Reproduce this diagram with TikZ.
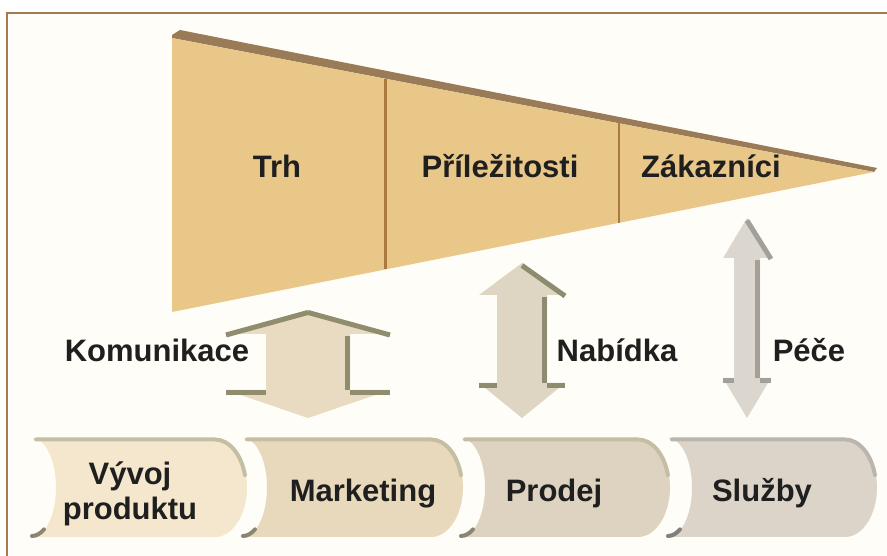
\documentclass[tikz,border=0pt]{standalone}
\usepackage{fontspec}
\setmainfont{Liberation Sans}
\usepackage{tikz}
\usetikzlibrary{calc}
\definecolor{paper}{HTML}{FFFDF8}
\definecolor{frameBrown}{HTML}{A47A50}
\definecolor{wedgeFill}{HTML}{E8C788}
\definecolor{wedgeTop}{HTML}{9A7B58}
\definecolor{wedgeLine}{HTML}{A97B3F}
\definecolor{arrowKom}{HTML}{E9DBC1}
\definecolor{arrowKomEdge}{HTML}{908D6E}
\definecolor{arrowNab}{HTML}{DED5C3}
\definecolor{arrowNabEdge}{HTML}{8E8C70}
\definecolor{arrowPec}{HTML}{DBD6CE}
\definecolor{arrowPecEdge}{HTML}{A3A099}
\definecolor{pieceA}{HTML}{F4E7CD}
\definecolor{pieceB}{HTML}{E8D9BC}
\definecolor{pieceC}{HTML}{DED3C0}
\definecolor{pieceD}{HTML}{DCD4C8}
\definecolor{pieceEdge}{HTML}{C4BFA2}
\definecolor{pieceEdgeGrey}{HTML}{B9B6B0}
\colorlet{captionText}{black!88}
\tikzset{
  caption/.style={font=\bfseries\fontsize{31}{35}\selectfont,text=captionText,inner sep=0pt,anchor=base},
  frame line/.style={draw=frameBrown,line width=2.5pt},
  wedge body/.style={fill=wedgeFill},
  wedge top/.style={fill=wedgeTop},
  divider/.style={draw=wedgeLine,line width=2.2pt},
  arrow edge/.style={line width=5pt},
  piece edge/.style={line width=4pt,line cap=round},
}

\begin{document}
\begin{tikzpicture}[x=1pt,y=1pt]
\useasboundingbox (0,0) rectangle (887,556);
\fill[paper] (7,0) rectangle (887,543);
\draw[frame line] (7,0) -- (7,543) -- (887,543);

% wedge
\coordinate (tl) at (172,518);
\coordinate (bl) at (172,244);
\coordinate (tip) at (874,384);
\fill[wedge top] (tl) -- (172,521) -- (180,526) -- (877,388) -- (tip) -- cycle;
\fill[wedge body] (tl) -- (tip) -- (bl) -- cycle;
\foreach \t in {0.304,0.637}
  \draw[divider] ($(bl)!\t!(tip)$) -- ($(tl)!\t!(tip)$);
\node[caption] (trh) at (277,378) {Trh};
\node[caption] (prilezitosti) at (500,378) {Příležitosti};
\node[caption] (zakaznici) at (711,378) {Zákazníci};

% arrows
\foreach \cx/\sw/\hw/\ya/\yb/\yc/\yd/\fc/\ec in {
    308/42/82/246/222/166/138/arrowKom/arrowKomEdge,
    522/25/43/293/261/173/138/arrowNab/arrowNabEdge,
    747/13/24/338/298/178/138/arrowPec/arrowPecEdge} {
  \fill[fill=\fc] (\cx,\ya) -- ({\cx+\hw},\yb) -- ({\cx+\sw},\yb) -- ({\cx+\sw},\yc)
    -- ({\cx+\hw},\yc) -- (\cx,\yd) -- ({\cx-\hw},\yc) -- ({\cx-\sw},\yc)
    -- ({\cx-\sw},\yb) -- ({\cx-\hw},\yb) -- cycle;
  \draw[arrow edge,draw=\ec] (\cx,{\ya-2.5}) -- ({\cx+\hw},{\yb-1});
  \draw[arrow edge,draw=\ec] ({\cx+\sw-2.5},{\yb-2}) -- ({\cx+\sw-2.5},\yc);
  \draw[arrow edge,draw=\ec] ({\cx-\hw},{\yc-2.5}) -- ({\cx-\sw},{\yc-2.5})
    ({\cx+\sw},{\yc-2.5}) -- ({\cx+\hw},{\yc-2.5});
}
\draw[arrow edge,draw=arrowKomEdge] (308,243.5) -- (226,221);
\node[caption] (komunikace) at (157,194) {Komunikace};
\node[caption] (nabidka) at (617,194) {Nabídka};
\node[caption] (pece) at (809,194) {Péče};

% process pieces
\foreach \xa/\xb/\fc/\ec in {32/247/pieceA/pieceEdge, 243/463/pieceB/pieceEdge,
    461/670/pieceC/pieceEdge, 668/877/pieceD/pieceEdgeGrey} {
  \fill[fill=\fc] (\xa,118) -- ({\xb-32},118)
    arc[start angle=90,end angle=-90,x radius=32,y radius=49.5] -- (\xa,19)
    arc[start angle=-90,end angle=90,x radius=24,y radius=49.5] -- cycle;
  \draw[piece edge,draw=\ec] ({\xa+4},116.5) -- ({\xb-32},116.5)
    arc[start angle=90,end angle=15,x radius=31,y radius=48];
  \draw[piece edge,draw=\ec!70!black] (\xa,20)
    arc[start angle=-90,end angle=-60,x radius=24,y radius=49.5];
}
\node[caption] (vyvoj) at (130,71) {Vývoj};
\node[caption] (produktu) at (130,36) {produktu};
\node[caption] (marketing) at (363,54) {Marketing};
\node[caption] (prodej) at (554,54) {Prodej};
\node[caption] (sluzby) at (762,54) {Služby};
\end{tikzpicture}
\end{document}
